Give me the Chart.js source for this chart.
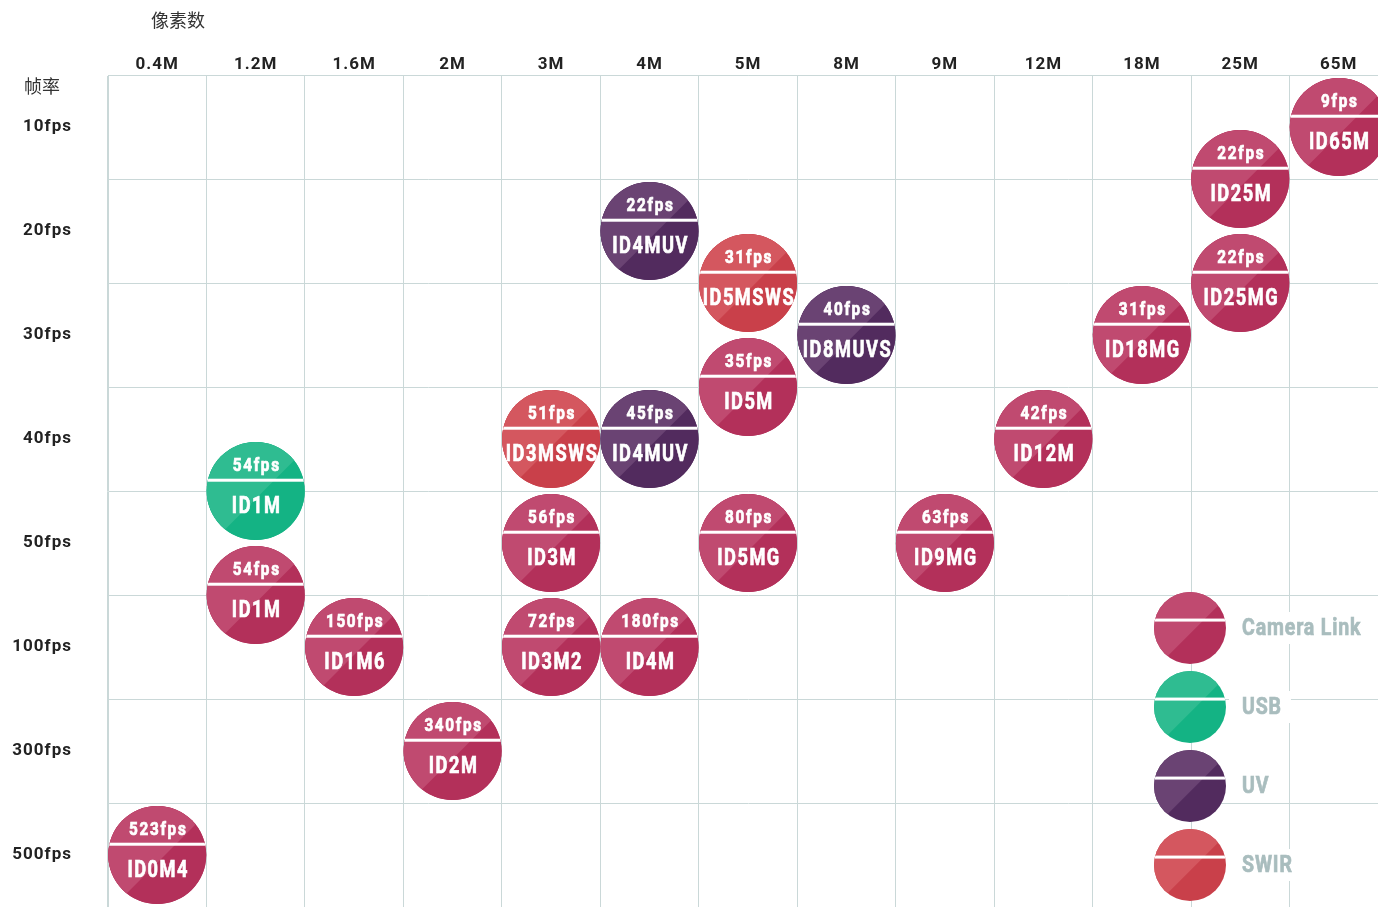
<!DOCTYPE html>
<html>
<head>
<meta charset="utf-8">
<script src="https://cdn.jsdelivr.net/npm/chart.js@4/dist/chart.umd.min.js"></script>
<style>
  html, body { margin: 0; padding: 0; background: #fff; overflow: hidden; }
  #wrap { width: 1437px; height: 956px; }
</style>
</head>
<body>
<div id="wrap"><canvas id="chart" width="1437" height="956"></canvas></div>
<script>
const pixelLabels = ['0.4M', '1.2M', '1.6M', '2M', '3M', '4M', '5M', '8M', '9M', '12M', '18M', '25M', '65M'];
const fpsLabels = ['10fps', '20fps', '30fps', '40fps', '50fps', '100fps', '300fps', '500fps'];

const models = ['ID65M', 'ID25M', 'ID25MG', 'ID4MUV', 'ID5MSWS', 'ID8MUVS', 'ID18MG', 'ID5M', 'ID3MSWS', 'ID4MUV', 'ID12M',
    'ID1M', 'ID3M', 'ID5MG', 'ID9MG', 'ID1M', 'ID1M6', 'ID3M2', 'ID4M', 'ID2M', 'ID0M4'];
const pixels = ['65M', '25M', '25M', '4M', '5M', '8M', '18M', '5M', '3M', '4M', '12M',
    '1.2M', '3M', '5M', '9M', '1.2M', '1.6M', '3M', '4M', '2M', '0.4M'];
const frameRates = [9, 22, 22, 22, 31, 40, 31, 35, 51, 45, 42, 54, 56, 80, 63, 54, 150, 72, 180, 340, 523];
// row position on the fps axis (0 = 10fps row, 0.5 = between 10fps and 20fps, ...)
const rowPos = [0, 0.5, 1.5, 1, 1.5, 2, 2, 2.5, 3, 3, 3, 3.5, 4, 4, 4, 4.5, 5, 5, 5, 6, 7];
const types = ['Camera Link', 'Camera Link', 'Camera Link', 'UV', 'SWIR', 'UV', 'Camera Link', 'Camera Link', 'SWIR', 'UV', 'Camera Link',
    'USB', 'Camera Link', 'Camera Link', 'Camera Link', 'Camera Link', 'Camera Link', 'Camera Link', 'Camera Link', 'Camera Link', 'Camera Link'];

const typeNames = ['Camera Link', 'USB', 'UV', 'SWIR'];
const palette = {
    'Camera Link': { light: '#c04a70', dark: '#b3305a' },
    'USB': { light: '#2fbc91', dark: '#14b384' },
    'UV': { light: '#6a4373', dark: '#522b5e' },
    'SWIR': { light: '#d4575f', dark: '#c9404a' }
};

const LABEL_FONT = "Roboto, 'Liberation Sans', sans-serif";
const GRID = '#cad8d8';

// one dataset per interface type
const datasets = typeNames.map(t => {
    const idx = types.map((v, i) => v === t ? i : -1).filter(i => i >= 0);
    return {
        label: t,
        data: idx.map(i => ({ x: pixelLabels.indexOf(pixels[i]), y: rowPos[i] })),
        meta: idx.map(i => ({ fps: frameRates[i] + 'fps', name: models[i] })),
        pointRadius: 49,
        pointHoverRadius: 49,
        pointBackgroundColor: palette[t].dark,
        pointBorderWidth: 0,
        clip: false
    };
});

function drawBubble(ctx, cx, cy, r, col) {
    ctx.save();
    ctx.beginPath();
    ctx.arc(cx, cy, r, 0, Math.PI * 2);
    ctx.closePath();
    ctx.fillStyle = col.dark;
    ctx.fill();
    ctx.clip();
    // lighter upper-left half
    const d = 0.16 * r;
    ctx.beginPath();
    ctx.moveTo(cx - 2 * r, cy - 2 * r);
    ctx.lineTo(cx + 2 * r + d, cy - 2 * r);
    ctx.lineTo(cx - 2 * r, cy + 2 * r + d);
    ctx.closePath();
    ctx.fillStyle = col.light;
    ctx.fill();
    // white divider
    ctx.fillStyle = '#fff';
    ctx.fillRect(cx - r, cy - 0.22 * r - 1.5, 2 * r, 3);
    ctx.restore();
}

// condensed look: squeeze text horizontally, thin stroke for a heavier weight
function squeezeText(ctx, text, x, y, sx) {
    ctx.save();
    ctx.translate(x, y);
    ctx.scale(sx, 1);
    ctx.fillText(text, 0, 0);
    ctx.strokeStyle = ctx.fillStyle;
    ctx.lineWidth = 0.7;
    ctx.strokeText(text, 0, 0);
    ctx.restore();
}

const bubbleDecor = {
    id: 'bubbleDecor',
    beforeDraw(chart) {
        // spaced-out tick labels
        chart.ctx.letterSpacing = '1px';
    },
    afterDatasetsDraw(chart) {
        const ctx = chart.ctx;
        chart.data.datasets.forEach((ds, di) => {
            const meta = chart.getDatasetMeta(di);
            const col = palette[ds.label];
            meta.data.forEach((pt, i) => {
                drawBubble(ctx, pt.x, pt.y, 49, col);
                ctx.save();
                ctx.fillStyle = '#fff';
                ctx.textAlign = 'center';
                ctx.textBaseline = 'middle';
                ctx.letterSpacing = '2px';
                ctx.font = 'bold 18px ' + LABEL_FONT;
                squeezeText(ctx, ds.meta[i].fps, pt.x + 1, pt.y - 25, 0.85);
                ctx.letterSpacing = '2px';
                ctx.font = 'bold 24px ' + LABEL_FONT;
                squeezeText(ctx, ds.meta[i].name, pt.x + 1, pt.y + 16, 0.76);
                ctx.restore();
            });
        });
    },
    afterDraw(chart) {
        const ctx = chart.ctx;
        ctx.save();
        // axis titles
        ctx.letterSpacing = '0px';
        ctx.fillStyle = '#333';
        ctx.textAlign = 'center';
        ctx.textBaseline = 'middle';
        ctx.font = "18px 'Noto Sans CJK SC', sans-serif";
        ctx.fillText('像素数', 178, 20);
        ctx.fillText('帧率', 42, 86);

        // legend
        typeNames.forEach((t, i) => {
            const cy = 628 + i * 79;
            ctx.font = 'bold 23px ' + LABEL_FONT;
            ctx.letterSpacing = '1px';
            const w = ctx.measureText(t).width * 0.85;
            ctx.fillStyle = '#fff';
            ctx.fillRect(1229, cy - 16, w + 22, 32);
            drawBubble(ctx, 1190, cy, 36, palette[t]);
            ctx.fillStyle = '#a9bdbe';
            ctx.textAlign = 'left';
            squeezeText(ctx, t, 1242, cy + 1, 0.85);
        });
        ctx.restore();
    }
};

new Chart(document.getElementById('chart'), {
    type: 'scatter',
    data: { datasets },
    plugins: [bubbleDecor],
    options: {
        responsive: false,
        animation: false,
        parsing: false,
        events: [],
        layout: { padding: 0 },
        plugins: {
            legend: { display: false },
            tooltip: { enabled: false }
        },
        scales: {
            x: {
                type: 'category',
                labels: pixelLabels,
                position: 'top',
                offset: true,
                grid: { offset: true, color: GRID, drawTicks: false },
                border: { color: GRID },
                ticks: {
                    color: '#222',
                    padding: 0,
                    font: { family: LABEL_FONT, size: 17, weight: 'bold' },
                    maxRotation: 0,
                    autoSkip: false
                },
                afterFit: (scale) => { scale.height = 75; }
            },
            y: {
                type: 'category',
                labels: fpsLabels,
                offset: true,
                grid: { offset: true, color: GRID, drawTicks: false },
                border: { color: GRID },
                ticks: {
                    color: '#222',
                    padding: 36,
                    font: { family: LABEL_FONT, size: 17, weight: 'bold' },
                    autoSkip: false
                },
                afterFit: (scale) => { scale.width = 108; }
            }
        }
    }
});
</script>
</body>
</html>
